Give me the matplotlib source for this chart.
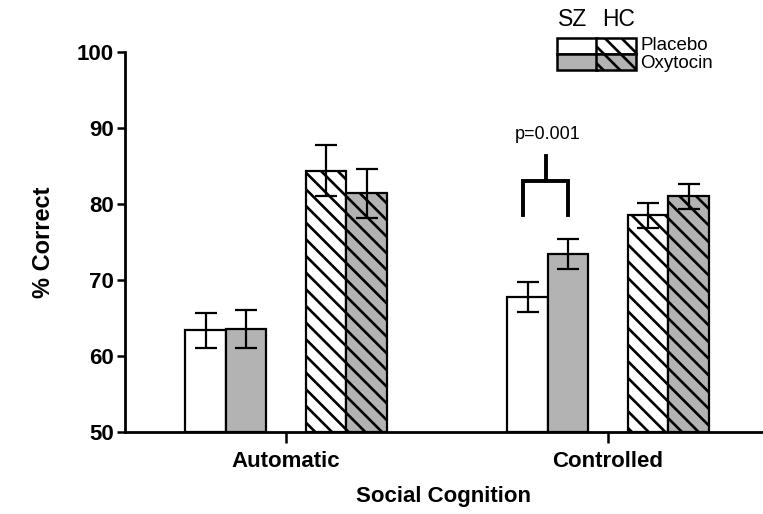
import matplotlib.pyplot as plt
import matplotlib.patches as mpatches
import numpy as np

plt.rcParams['font.family'] = ['Liberation Sans', 'DejaVu Sans']
plt.rcParams['hatch.linewidth'] = 1.9

categories = ['Automatic', 'Controlled']
sz_placebo = [63.4, 67.8]
sz_placebo_se = [2.3, 2.0]
sz_oxytocin = [63.6, 73.4]
sz_oxytocin_se = [2.5, 2.0]
hc_placebo = [84.4, 78.5]
hc_placebo_se = [3.4, 1.6]
hc_oxytocin = [81.4, 81.0]
hc_oxytocin_se = [3.2, 1.6]

gray = '#b3b3b3'
x = np.array([0, 8])
w = 1.0

fig = plt.figure(figsize=(7.63, 5.14), dpi=100)
ax = fig.add_axes([125 / 763, 82 / 514, 638 / 763, 380 / 514])

series = [
    (sz_placebo, sz_placebo_se, -2, 'white', None),
    (sz_oxytocin, sz_oxytocin_se, -1, gray, None),
    (hc_placebo, hc_placebo_se, 1, 'white', '\\\\'),
    (hc_oxytocin, hc_oxytocin_se, 2, gray, '\\\\'),
]
for vals, se, off, col, hatch in series:
    ax.bar(x + off * w, np.array(vals) - 50, w, bottom=50, color=col,
           edgecolor='black', linewidth=1.6, hatch=hatch, zorder=2)
    ax.errorbar(x + off * w, vals, yerr=se, fmt='none', ecolor='black',
                elinewidth=1.6, capsize=8, capthick=1.6, zorder=3)

# significance bracket
bx1, bx2 = x[1] - 2.1, x[1] - 1.0
ax.plot([bx1, bx1, bx2, bx2], [78.6, 83.0, 83.0, 78.6], color='black', lw=2.8,
        solid_joinstyle='miter', zorder=4)
ax.plot([(bx1 + bx2) / 2] * 2, [83.0, 86.3], color='black', lw=2.8, zorder=4)
ax.text((bx1 + bx2) / 2 + 0.05, 89.1, 'p=0.001', ha='center', va='center', fontsize=13)

ax.set_xlim(-4.0, 11.85)
ax.set_ylim(50, 100)
ax.set_yticks([50, 60, 70, 80, 90, 100])
ax.set_xticks(x)
ax.set_xticklabels(categories)
for lab in ax.get_xticklabels() + ax.get_yticklabels():
    lab.set_fontweight('bold')
    lab.set_fontsize(16)
ax.tick_params(axis='y', direction='out', length=6, width=1.8, pad=2)
ax.tick_params(axis='x', direction='out', length=8, width=1.8, pad=6)
for s in ['top', 'right']:
    ax.spines[s].set_visible(False)
for s in ['left', 'bottom']:
    ax.spines[s].set_linewidth(2.0)
ax.set_ylabel('% Correct', fontsize=17, fontweight='bold', labelpad=16)
ax.set_xlabel('Social Cognition', fontsize=16, fontweight='bold', labelpad=10)

# legend drawn in figure pixels
def fx(px):
    return px / 763

def fy(py):
    return 1 - py / 514

fig.text(fx(573), fy(20), 'SZ', ha='center', va='center', fontsize=16.5)
fig.text(fx(619), fy(20), 'HC', ha='center', va='center', fontsize=16.5)
cells = [
    (557, 38, 'white', None), (596, 38, 'white', '\\\\'),
    (557, 54, gray, None), (596, 54, gray, '\\\\'),
]
for px, py, col, hatch in cells:
    fig.add_artist(mpatches.Rectangle((fx(px), fy(py + 16)), fx(40), 16 / 514,
                                      facecolor=col, edgecolor='black', lw=1.8,
                                      hatch=hatch, transform=fig.transFigure))
fig.text(fx(640), fy(46), 'Placebo', ha='left', va='center', fontsize=13.5)
fig.text(fx(640), fy(63), 'Oxytocin', ha='left', va='center', fontsize=13.5)

fig.savefig('out.png', dpi=100)
